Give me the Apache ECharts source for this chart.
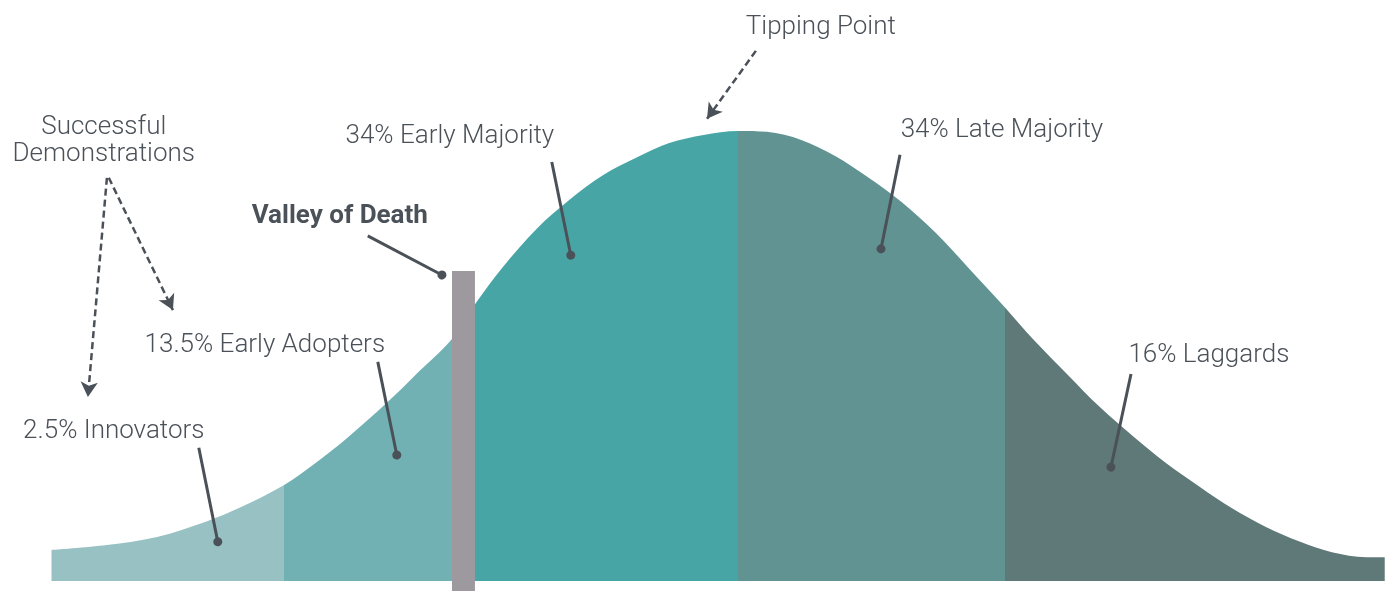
<!DOCTYPE html>
<html>
<head>
<meta charset="utf-8">
<style>
  html, body { margin: 0; padding: 0; background: #fff; }
  #main { width: 1390px; height: 591px; }
</style>
<script src="https://cdn.jsdelivr.net/npm/echarts@6/dist/echarts.min.js"></script>
</head>
<body>
<div id="main"></div>
<script>
// x: distance from the peak in standard deviations, y: height as % of the peak
var innovators = [[-2.60, 6.9], [-2.39, 8.0], [-2.20, 9.8], [-2.01, 13.3], [-1.89, 16.2], [-1.72, 21.3]];
var earlyAdopters = [[-1.61, 25.8], [-1.48, 31.8], [-1.33, 39.6], [-1.23, 45.3], [-1.08, 54.0]];
var earlyMajority = [[-0.99, 62.0], [-0.89, 69.8], [-0.76, 78.4], [-0.64, 84.6], [-0.51, 90.2], [-0.38, 94.2], [-0.26, 97.3], [-0.13, 99.1], [0, 100]];
var lateMajority = [[0.11, 99.8], [0.24, 98.0], [0.37, 94.4], [0.49, 89.8], [0.62, 84.2], [0.75, 77.3], [0.87, 69.8]];
var laggards = [[1.01, 60.9], [1.12, 53.6], [1.25, 45.8], [1.37, 38.7], [1.50, 32.0], [1.62, 26.3], [1.75, 20.9], [1.87, 16.2], [2.00, 12.0], [2.13, 8.7], [2.25, 6.4], [2.38, 5.3], [2.45, 5.3]];

var segmentNames = ["2.5% Innovators", "13.5% Early Adopters", "34% Early Majority", "34% Late Majority", "16% Laggards"];
var segmentBreaks = [-1.72, -1.03, 0, 1.01];
var valleyRange = [-1.083, -0.996];
var valleyTop = 68.9;

(function() {
	var myChart = echarts.init(document.getElementById("main"));

	var colors = ["#97c1c3", "#72b1b3", "#48a5a5", "#629393", "#5f7878"];
	var ink = "#4b5158";
	var yMin = -2.22;

	var curve = [].concat(innovators, earlyAdopters, earlyMajority, lateMajority, laggards);

	// label text position, leader start, leader dot (axis units)
	var leaders = [
		{ name: segmentNames[0], text: [-2.364, 33.3], from: [-2.042, 29.6], to: [-1.970, 8.7] },
		{ name: segmentNames[1], text: [-1.792, 52.4], from: [-1.364, 48.7], to: [-1.292, 28.0] },
		{ name: segmentNames[2], text: [-1.091, 98.7], from: [-0.705, 93.1], to: [-0.633, 72.4] },
		{ name: segmentNames[3], text: [1.000, 100.2], from: [0.614, 94.7], to: [0.542, 73.8] },
		{ name: segmentNames[4], text: [1.784, 50.2], from: [1.489, 46.0], to: [1.413, 25.3] },
		{ name: "Valley of Death", text: [-1.508, 81.1], from: [-1.402, 76.7], to: [-1.121, 68.0], bold: true }
	];
	var arrows = [
		{ from: [0.068, 117.8], to: [-0.117, 102.7] },
		{ from: [-2.390, 89.6], to: [-2.462, 40.9] },
		{ from: [-2.383, 89.6], to: [-2.140, 60.2] }
	];
	var notes = [
		{ name: "Tipping Point", coord: [0.314, 123.1] },
		{ name: "Successful\nDemonstrations", coord: [-2.402, 97.7] }
	];

	var pieces = colors.map(function(c, i) {
		var p = { color: c };
		if (i > 0) p.gte = segmentBreaks[i - 1];
		if (i < segmentBreaks.length) p.lt = segmentBreaks[i];
		return p;
	});

	var pointData = [];
	leaders.forEach(function(l) {
		pointData.push({
			name: l.name,
			coord: l.text,
			label: { fontWeight: l.bold ? 700 : 300 }
		});
	});
	notes.forEach(function(n) {
		pointData.push({ name: n.name, coord: n.coord });
	});

	var lineData = [];
	leaders.forEach(function(l) {
		lineData.push([
			{ coord: l.from, symbol: "none" },
			{ coord: l.to, symbol: "circle", symbolSize: 9 }
		]);
	});
	arrows.forEach(function(a) {
		lineData.push([
			{ coord: a.from, symbol: "none", lineStyle: { type: [7, 4], width: 2.5 } },
			{ coord: a.to, symbol: "arrow", symbolSize: [13, 15] }
		]);
	});

	var option = {
		animation: false,
		grid: { left: 0, right: 0, top: 0, bottom: 0 },
		xAxis: { type: "value", min: -2.795, max: 2.47, show: false },
		yAxis: { type: "value", min: yMin, max: 129.1, show: false },
		visualMap: {
			show: false,
			type: "piecewise",
			dimension: 0,
			seriesIndex: 0,
			pieces: pieces
		},
		series: [
			{
				name: "Adoption",
				type: "line",
				data: curve,
				smooth: 0.33,
				symbol: "none",
				lineStyle: { width: 0 },
				areaStyle: { opacity: 1 },
				z: 2
			},
			{
				name: "annotations",
				type: "line",
				data: [],
				z: 10,
				markArea: {
					silent: true,
					z: 6,
					itemStyle: { color: "#9e999f" },
					data: [[{ coord: [valleyRange[0], valleyTop] }, { coord: [valleyRange[1], yMin] }]]
				},
				markPoint: {
					silent: true,
					z: 7,
					symbol: "circle",
					symbolSize: 1,
					itemStyle: { color: "rgba(0,0,0,0)" },
					label: {
						show: true,
						position: "inside",
						formatter: "{b}",
						color: ink,
						fontFamily: "Roboto",
						fontWeight: 300,
						fontSize: 26,
						lineHeight: 27,
						align: "center"
					},
					data: pointData
				},
				markLine: {
					silent: true,
					z: 7,
					symbol: ["none", "circle"],
					symbolSize: 9,
					label: { show: false },
					lineStyle: { color: ink, width: 3, type: "solid" },
					itemStyle: { color: ink },
					data: lineData
				}
			}
		]
	};

	myChart.setOption(option);

	window.addEventListener("resize", function() {
		myChart.resize();
	});
})();
</script>
</body>
</html>
